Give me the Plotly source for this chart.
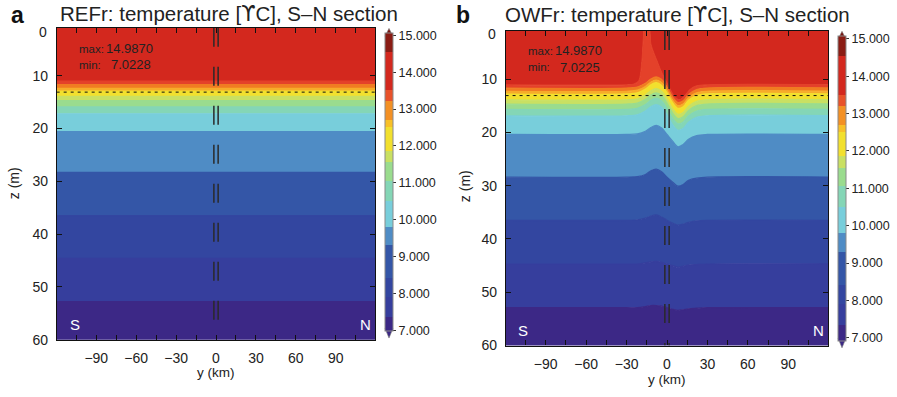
import plotly.graph_objects as go

W, H = 897, 397

# ---------------- data ----------------
y_tickvals = [-90, -60, -30, 0, 30, 60, 90]
y_minor = [-105, -75, -45, -15, 15, 45, 75, 105]
z_tickvals = [10, 20, 30, 40, 50, 60]
cbar_ticks = [7, 8, 9, 10, 11, 12, 13, 14, 15]

# colour classes of the temperature colour bar (degC)
cbar_levels = [6.9, 7.35, 7.9, 8.4, 9.3, 9.8, 10.5, 11.05, 11.55, 11.85, 12.5, 12.7,
               13.2, 13.5, 14.55, 15.1]
cbar_colors = ["#3C2886", "#363E9D", "#3346A0", "#3456A7", "#4F8CC5", "#78CEDB", "#84D6B6",
               "#9ADC8E", "#C9E062", "#F2E02E", "#F8C028", "#F39024", "#E8522A", "#D3281E",
               "#8A1C14"]

# colours of the filled bands in the sections, from surface to bottom
band_colors = ["#D3281E", "#E4412A", "#F07C22", "#F6AC2A", "#F2E02E", "#C9E062", "#9ADC8E",
               "#84D6B6", "#78CEDB", "#4F8CC5", "#3456A7", "#3346A0", "#363E9D", "#3C2886"]

# REFr: depth (m) of each band boundary, flat across the section
ref_y = [-125, 125]
ref_depths = [11.0, 11.7, 12.4, 12.9, 13.9, 14.7, 15.9, 17.2, 20.6, 28.3, 36.5, 44.6, 52.8]

# OWFr: first boundary (with the warm-water tongue near y = -15 km)
owf_y1 = [-125, -30, -25, -21, -18.5, -17.5, -16.5, -13.5, -12, -8, -4, -1, 2, 5.5, 9.5,
          13, 17, 22, 30, 125]
owf_d1 = [11.1, 11.1, 11.0, 10.4, 6.5, 2.5, 0.3, 0.3, 3.5, 6.3, 8.8, 10.3, 11.8, 13.3, 13.9,
          13.2, 12.0, 11.3, 11.1, 11.1]
# OWFr: remaining boundaries sampled at common positions (km)
owf_y = [-125, -30, -22, -16, -12, -8, -4, 0, 4, 8, 12, 16, 22, 30, 125]
owf_d2 = [11.7, 11.7, 11.5, 10.8, 10.0, 9.6, 10.1, 11.5, 13.3, 14.4, 14.1, 12.9, 12.0, 11.7, 11.7]
owf_d3 = [12.3, 12.3, 12.1, 11.4, 10.6, 10.2, 10.7, 12.1, 13.9, 15.0, 14.7, 13.5, 12.6, 12.3, 12.3]
owf_d4 = [12.8, 12.8, 12.6, 11.9, 11.1, 10.7, 11.2, 12.6, 14.4, 15.5, 15.2, 14.0, 13.1, 12.8, 12.8]
owf_d5 = [13.9, 13.9, 13.7, 13.0, 12.2, 11.8, 12.3, 13.7, 15.5, 16.6, 16.3, 15.1, 14.2, 13.9, 13.9]
owf_d6 = [14.7, 14.7, 14.5, 13.8, 13.0, 12.6, 13.1, 14.5, 16.3, 17.4, 17.1, 15.9, 15.0, 14.7, 14.7]
owf_d7 = [15.7, 15.7, 15.5, 14.8, 14.0, 13.6, 14.1, 15.5, 17.3, 18.4, 18.1, 16.9, 16.0, 15.7, 15.7]
owf_d8 = [16.9, 16.9, 16.7, 16.0, 15.2, 14.8, 15.3, 16.7, 18.5, 19.6, 19.3, 18.1, 17.2, 16.9, 16.9]
owf_d9 = [20.4, 20.4, 20.3, 19.8, 19.1, 18.7, 19.2, 20.4, 21.6, 22.7, 22.3, 21.3, 20.6, 20.4, 20.4]
owf_d10 = [28.4, 28.4, 28.3, 27.9, 27.2, 26.9, 27.4, 28.4, 29.3, 30.1, 29.8, 29.0, 28.6, 28.4, 28.4]
owf_d11 = [36.5, 36.5, 36.4, 36.1, 35.7, 35.5, 35.9, 36.5, 37.0, 37.4, 37.2, 36.9, 36.6, 36.5, 36.5]
owf_d12 = [44.7, 44.7, 44.7, 44.5, 44.3, 44.2, 44.4, 44.7, 45.0, 45.3, 45.1, 44.9, 44.8, 44.7, 44.7]
owf_d13 = [52.9, 52.9, 52.9, 52.7, 52.5, 52.5, 52.6, 52.9, 53.2, 53.4, 53.3, 53.1, 53.0, 52.9, 52.9]

mld_depth = 13.1          # dashed horizontal line (m)
farm_edges = [-1.6, 1.6]  # dashed vertical lines (km)

ref_stats = ("14.9870", "7.0228")
owf_stats = ("14.9870", "7.0225")

# ---------------- helpers ----------------
FONT = "Liberation Sans, Arial, Helvetica, sans-serif"


def px(x):
    return x / W


def py(y):
    return 1 - y / H


fig = go.Figure()


def add_section(xa, ya, ys_list, ds_list, ztop):
    common = dict(xaxis=xa, yaxis=ya, hoverinfo="skip", showlegend=False)
    fig.add_trace(go.Scatter(x=[-125, 125], y=[ztop - 3, ztop - 3], mode="lines",
                             line=dict(width=0, color=band_colors[0]), **common))
    for i, (ys, ds) in enumerate(zip(ys_list, ds_list)):
        fig.add_trace(go.Scatter(x=ys, y=ds, mode="lines",
                                 line=dict(width=0, color=band_colors[i], shape="spline",
                                           smoothing=0.9),
                                 fill="tonexty", fillcolor=band_colors[i], **common))
    fig.add_trace(go.Scatter(x=[-125, 125], y=[62, 62], mode="lines",
                             line=dict(width=0, color=band_colors[-1]),
                             fill="tonexty", fillcolor=band_colors[-1], **common))
    # boundary lines on top of the fills to hide seams
    for i, (ys, ds) in enumerate(zip(ys_list, ds_list)):
        fig.add_trace(go.Scatter(x=ys, y=ds, mode="lines",
                                 line=dict(width=1.3, color=band_colors[i + 1], shape="spline",
                                           smoothing=0.9), **common))
    # dashed reference lines
    for xe in farm_edges:
        fig.add_trace(go.Scatter(x=[xe, xe], y=[ztop, 60], mode="lines",
                                 line=dict(width=1.5, color="#2a2a2a", dash="19px,20px"),
                                 **common))
    fig.add_trace(go.Scatter(x=[-125, 125], y=[mld_depth, mld_depth], mode="lines",
                             line=dict(width=1, color="#111111", dash="3px,4px"), **common))


ZTOP_A, ZTOP_B = 0.9, 1.0
add_section("x", "y", [ref_y] * len(ref_depths), [[d, d] for d in ref_depths], ZTOP_A)
owf_bounds = [owf_d1, owf_d2, owf_d3, owf_d4, owf_d5, owf_d6, owf_d7, owf_d8, owf_d9,
              owf_d10, owf_d11, owf_d12, owf_d13]
add_section("x2", "y2", [owf_y1] + [owf_y] * 12, owf_bounds, ZTOP_B)


def colorscale(cmin, cmax):
    cs = []
    n = len(cbar_colors)
    for i in range(n):
        lo = 0.0 if i == 0 else min(max((cbar_levels[i] - cmin) / (cmax - cmin), 0), 1)
        hi = 1.0 if i == n - 1 else min(max((cbar_levels[i + 1] - cmin) / (cmax - cmin), 0), 1)
        cs.append([lo, cbar_colors[i]])
        cs.append([hi, cbar_colors[i]])
    return cs


def add_cbar(xa, ya, xpix, top, bot, y15, y7, thick):
    per = (y7 - y15) / 8.0
    cmax = 15 + (y15 - top) / per
    cmin = 7 - (bot - y7) / per
    fig.add_trace(go.Scatter(
        x=[0], y=[-50], mode="markers", xaxis=xa, yaxis=ya, hoverinfo="skip",
        showlegend=False,
        marker=dict(size=1, opacity=0, color=[10], cmin=cmin, cmax=cmax,
                    colorscale=colorscale(cmin, cmax), showscale=True,
                    colorbar=dict(x=px(xpix), xanchor="left", xpad=0, ypad=0,
                                  y=py((top + bot) / 2), yanchor="middle",
                                  lenmode="pixels", len=bot - top,
                                  thicknessmode="pixels", thickness=thick,
                                  outlinewidth=1, outlinecolor="#8a8a8a",
                                  tickvals=cbar_ticks, tickformat=".3f",
                                  ticks="outside", ticklen=3, tickcolor="#333",
                                  tickfont=dict(family=FONT, size=12.5, color="#222")))))
    xc = xpix + thick / 2
    fig.add_shape(type="path", xref="paper", yref="paper",
                  path=f"M {px(xpix)},{py(top)} L {px(xpix + thick)},{py(top)} L {px(xc)},{py(top - 8)} Z",
                  fillcolor="#7A1410", line=dict(color="#777", width=0.6))
    fig.add_shape(type="path", xref="paper", yref="paper",
                  path=f"M {px(xpix)},{py(bot)} L {px(xpix + thick)},{py(bot)} L {px(xc)},{py(bot + 10)} Z",
                  fillcolor="#3C2886", line=dict(color="#777", width=0.6))


add_cbar("x", "y", 385, 37, 335, 39, 334, 8)
add_cbar("x2", "y2", 838, 40, 345, 42.7, 341.7, 8)

axis_common = dict(showline=True, linecolor="#111", linewidth=1.2, mirror="ticks",
                   ticks="inside", ticklen=5, tickcolor="#111", tickwidth=1,
                   showgrid=False, zeroline=False,
                   tickfont=dict(family=FONT, size=14, color="#222"))

fig.update_layout(
    width=W, height=H, margin=dict(l=0, r=0, t=0, b=0),
    paper_bgcolor="white", plot_bgcolor="white", showlegend=False,
    font=dict(family=FONT, color="#222"),
    xaxis=dict(domain=[px(57), px(375)], range=[-119.5, 119.5], anchor="y",
               tickvals=y_tickvals, ticklabelstandoff=5,
               minor=dict(tickvals=y_minor, ticks="inside", ticklen=5, tickcolor="#111"),
               **axis_common),
    yaxis=dict(domain=[py(346.7), py(28.3)], range=[60, ZTOP_A], anchor="x",
               tickvals=z_tickvals, ticklabelstandoff=5, **axis_common),
    xaxis2=dict(domain=[px(506), px(828)], range=[-119.5, 119.5], anchor="y2",
                tickvals=y_tickvals, ticklabelstandoff=6,
                minor=dict(tickvals=y_minor, ticks="inside", ticklen=5, tickcolor="#111"),
                **axis_common),
    yaxis2=dict(domain=[py(352.7), py(31.7)], range=[60, ZTOP_B], anchor="x2",
                tickvals=z_tickvals, ticklabelstandoff=5, **axis_common),
)


def ann(text, x, y, size, xanchor="left", color="#222", bold=False, angle=0):
    fig.add_annotation(text=f"<b>{text}</b>" if bold else text, x=px(x), y=py(y),
                       xref="paper", yref="paper", xanchor=xanchor, yanchor="middle",
                       showarrow=False, textangle=angle, borderpad=0,
                       font=dict(family=FONT, size=size, color=color))


UPS = '<span style="font-family:DejaVu Sans">ϒ</span>'

# panel labels and titles
ann("a", 10, 15, 23, bold=True, color="#111")
ann(f"REFr: temperature [{UPS}C], S–N section", 59, 14, 20.5, color="#222")
ann("b", 455, 15, 23, bold=True, color="#111")
ann(f"OWFr: temperature [{UPS}C], S–N section", 504, 15, 20.5, color="#222")

# "0" tick labels at the top of the depth axes
ann("0", 48, 32.7, 14, xanchor="right")
ann("0", 497, 35, 14, xanchor="right")

# axis titles
ann("z (m)", 14, 187, 14, xanchor="center", angle=-90)
ann("z (m)", 465, 190, 14, xanchor="center", angle=-90)
ann("y (km)", 216, 380.5, 13.5, xanchor="center")
ann("y (km)", 667, 387.5, 13.5, xanchor="center")

# statistics
ann("max:", 78, 50, 11.5)
ann(ref_stats[0], 105, 50, 13)
ann("min:", 78, 66, 11.5)
ann(ref_stats[1], 110, 66, 13)
ann("max:", 527, 52, 11.5)
ann(owf_stats[0], 554, 52, 13)
ann("min:", 527, 68.5, 11.5)
ann(owf_stats[1], 559, 68.5, 13)

# S / N markers
ann("S", 75, 331, 15, xanchor="center", color="white")
ann("N", 365, 331, 15, xanchor="center", color="white")
ann("S", 523, 337, 15, xanchor="center", color="white")
ann("N", 818, 337, 15, xanchor="center", color="white")

fig.write_html("out.html")
